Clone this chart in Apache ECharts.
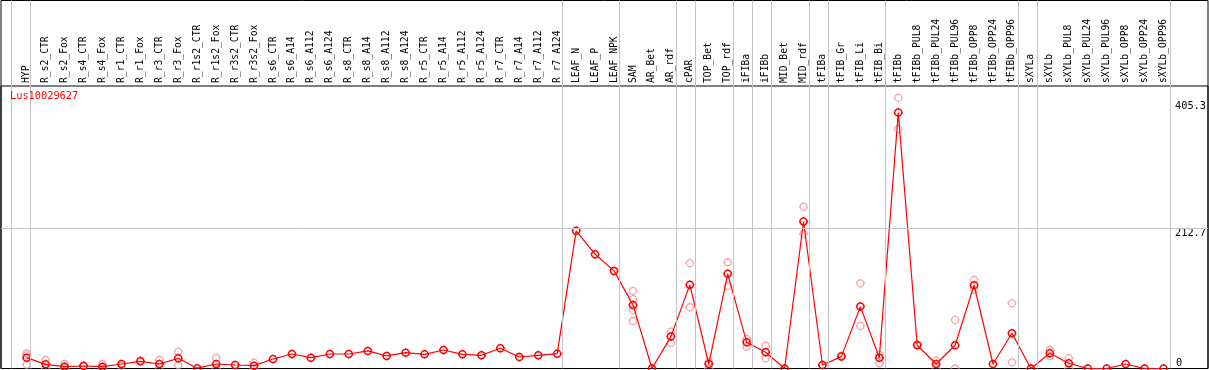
<!DOCTYPE html>
<html><head><meta charset="utf-8">
<script src="https://cdn.jsdelivr.net/npm/echarts@6/dist/echarts.min.js"></script>
<style>html,body{margin:0;padding:0;background:#fff}#c{width:1209px;height:370px}</style>
</head><body><div id="c"></div>
<script>
const geneName = 'Lus10029627';
const categories = ['HYP','R_s2_CTR','R_s2_Fox','R_s4_CTR','R_s4_Fox','R_r1_CTR','R_r1_Fox','R_r3_CTR','R_r3_Fox',
  'R_r1s2_CTR','R_r1s2_Fox','R_r3s2_CTR','R_r3s2_Fox','R_s6_CTR','R_s6_A14','R_s6_A112','R_s6_A124',
  'R_s8_CTR','R_s8_A14','R_s8_A112','R_s8_A124','R_r5_CTR','R_r5_A14','R_r5_A112','R_r5_A124',
  'R_r7_CTR','R_r7_A14','R_r7_A112','R_r7_A124','LEAF_N','LEAF_P','LEAF_NPK','SAM','AR_Bet','AR_rdf',
  'cPAR','TOP_Bet','TOP_rdf','iFIBa','iFIBb','MID_Bet','MID_rdf','tFIBa','tFIB_Gr','tFIB_Li','tFIB_Bi',
  'tFIBb','tFIBb_PUL8','tFIBb_PUL24','tFIBb_PUL96','tFIBb_OPP8','tFIBb_OPP24','tFIBb_OPP96',
  'sXYLa','sXYLb','sXYLb_PUL8','sXYLb_PUL24','sXYLb_PUL96','sXYLb_OPP8','sXYLb_OPP24','sXYLb_OPP96'];
const expression = [16.4,6.3,2.8,3.8,2.8,6.8,10.9,6.8,15.4,0.5,6.8,5.3,4.3,14.4,22,16.4,22,22,26.6,19,
  24,21.5,28,21.5,20,30.6,17.4,20,22.5,208.6,173.2,147.9,96.3,0,48.3,126.7,6.8,143.4,39.7,24.5,0,222.7,
  5.3,18,93.8,16.4,387.7,35.2,6.8,35.2,126.2,6.8,53.4,0,23,7.9,0,0,6.8,0,0];
const replicates = [[23,20,6],[12.9,0],[6.8,0],[5],[6.8,0],[4],[12],[12.9,2],[25.5,5.3],[],[16.4,0],[],[8.9,0],
  [],[],[],[],[],[],[],[],[],[],[],[],[],[],[],[],[],[],[],
  [117.6,105,88.8,72],[],[55.8,39],[159.6,92.8],[10.4,0],[161,125],[44.8,33],[34.6,15.4],[],[245,204],
  [],[20],[129,64.5],[20.5,7.9],[410,363],[37],[11.8,0],[73.6,0],[134.3,119],[],[98.9,9.4],
  [],[28,19],[15.4,0],[],[],[],[],[]];
const yLabelZero = [0];
const yLabelUpper = [212.7, 405.3];
const yMax = 428;
const hGridValues = [212.7];
const groupEnds = [-1,0,28,31,34,35,37,38,39,41,42,45,52,53,60];

const W = 1209, STEP = 19, CAT_LEFT = 17.2;
const n = categories.length;
const catRight = W - (CAT_LEFT + n * STEP);
const c0 = CAT_LEFT + STEP / 2;
const FL = 1, FR = 1;
const vMin = (FL - c0) / STEP, vMax = (W - FR - c0) / STEP;
const TOP = 86, BOTTOM = 1.5;
const FONT = 'DejaVu Sans Mono';
const markerPath = 'path://M4.5,1A3.5,3.5 0 1 1 4.5,8A3.5,3.5 0 1 1 4.5,1ZM4.5,0L4.5,1M4.5,8L4.5,9M0,4.5L1,4.5M8,4.5L9,4.5';

const repData = [];
replicates.forEach((arr, i) => arr.forEach(v => repData.push([i, v])));

const hidden = {show: false};
const chart = echarts.init(document.getElementById('c'), null, {renderer: 'canvas'});
chart.setOption({
  animation: false,
  title: {text: geneName, left: 10, top: 91, padding: 0,
    textStyle: {color: '#f00', fontFamily: FONT, fontSize: 10.3, fontWeight: 'normal'}},
  grid: [
    {left: CAT_LEFT, right: catRight, top: TOP, bottom: BOTTOM},
    {left: FL, right: FR, top: 0.5, bottom: BOTTOM, show: true, borderColor: '#000', borderWidth: 1, backgroundColor: 'transparent'},
    {left: FL, right: FR, top: TOP, bottom: BOTTOM, show: true, borderColor: '#000', borderWidth: 1, backgroundColor: 'transparent'}
  ],
  xAxis: [
    {type: 'category', data: categories, gridIndex: 0, position: 'top', boundaryGap: true,
      axisLine: hidden, axisTick: hidden, splitLine: hidden,
      axisLabel: {rotate: 90, margin: 3, interval: 0, fontFamily: FONT, fontSize: 9.7, color: '#000'}},
    {type: 'value', gridIndex: 1, min: vMin, max: vMax, show: false},
    {type: 'value', gridIndex: 2, min: 0, max: 1, show: false}
  ],
  yAxis: [
    {type: 'value', gridIndex: 0, min: 0, max: yMax, position: 'right',
      axisLine: hidden, axisTick: hidden, splitLine: hidden,
      axisLabel: {customValues: yLabelZero, verticalAlign: 'bottom', align: 'left', margin: 3,
        fontFamily: FONT, fontSize: 10.3, color: '#000'}},
    {type: 'value', gridIndex: 0, min: 0, max: yMax, position: 'right',
      axisLine: hidden, axisTick: hidden, splitLine: hidden,
      axisLabel: {customValues: yLabelUpper, verticalAlign: 'top', align: 'left', margin: 2,
        fontFamily: FONT, fontSize: 10.3, color: '#000'}},
    {type: 'value', gridIndex: 1, min: 0, max: 1, show: false},
    {type: 'value', gridIndex: 2, min: 0, max: yMax, show: false}
  ],
  series: [
    {type: 'line', xAxisIndex: 1, yAxisIndex: 2, data: [], silent: true, z: 1,
      markLine: {silent: true, symbol: ['none', 'none'], label: {show: false}, animation: false,
        lineStyle: {color: '#c4c4c4', width: 1, type: 'solid'},
        data: groupEnds.map(g => ({xAxis: g + 0.17}))}},
    {type: 'line', xAxisIndex: 2, yAxisIndex: 3, data: [], silent: true, z: 1,
      markLine: {silent: true, symbol: ['none', 'none'], label: {show: false}, animation: false,
        lineStyle: {color: '#c4c4c4', width: 1, type: 'solid'},
        data: hGridValues.map(v => ({yAxis: v}))}},
    {type: 'scatter', xAxisIndex: 0, yAxisIndex: 0, data: repData, symbol: markerPath, symbolSize: 9, z: 3,
      itemStyle: {color: 'rgba(0,0,0,0)', borderColor: '#f29090', borderWidth: 1.3}},
    {type: 'line', xAxisIndex: 0, yAxisIndex: 0, data: expression, symbol: markerPath, symbolSize: 9, z: 4,
      showAllSymbol: true,
      lineStyle: {color: '#f00', width: 1.2},
      itemStyle: {color: 'rgba(0,0,0,0)', borderColor: '#f00', borderWidth: 1.5}}
  ]
});
</script></body></html>
